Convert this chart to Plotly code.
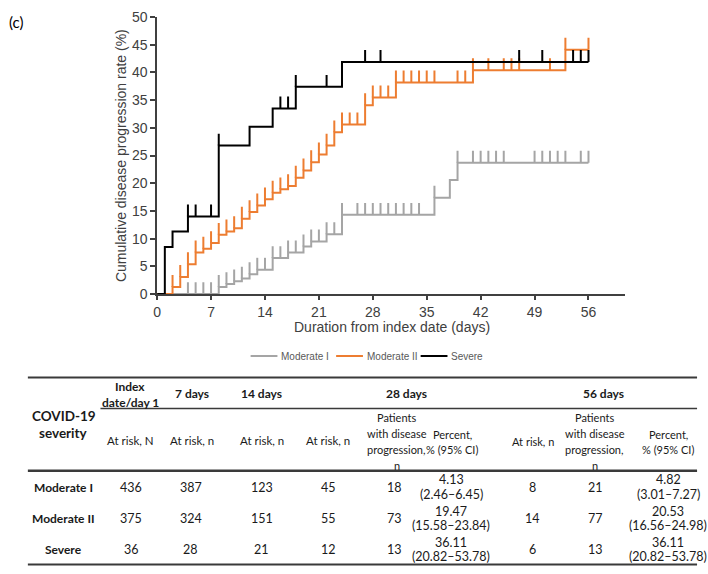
import plotly.graph_objects as go

W, H = 708, 574

# ---------------- data ----------------
x_ticks = [0, 7, 14, 21, 28, 35, 42, 49, 56]
y_ticks = [0, 5, 10, 15, 20, 25, 30, 35, 40, 45, 50]
follow_up_end = 56

series_names = ["Moderate I", "Moderate II", "Severe"]
series_colors = ["#A5A5A5", "#ED7D31", "#000000"]

# Moderate I (grey)
mod1_step_days = [8, 9, 10, 11, 12, 13, 15, 17, 19, 20, 22, 24, 36, 38, 39]
mod1_step_vals = [1.3, 1.8, 2.3, 2.8, 3.6, 4.4, 6.5, 7.5, 8.6, 9.5, 10.8, 14.3, 17.4, 20.6, 23.7]
mod1_censor = [4, 5, 6, 7, 8, 9, 10, 11, 12, 13, 14, 15, 16, 17, 18, 19, 20, 21, 22, 23, 24,
               26, 27, 28, 29, 30, 31, 32, 33, 34, 36, 39, 41, 42, 43, 44, 45,
               49, 50, 51, 52, 53, 55, 56]

# Moderate II (orange)
mod2_step_days = [2, 3, 4, 5, 6, 7, 8, 9, 10, 11, 12, 13, 14, 15, 16, 17, 18, 19, 20, 21,
                  22, 23, 24, 27, 28, 31, 41, 53]
mod2_step_vals = [1.3, 3.1, 5.4, 7.5, 8.2, 9.2, 10.7, 11.3, 11.9, 13.6, 14.8, 16.0, 17.1, 18.3,
                  18.9, 19.5, 21.0, 22.3, 23.8, 25.2, 26.8, 29.2, 30.6, 34.1, 35.5, 38.2, 40.4, 44.1]
mod2_censor = [2, 3, 4, 5, 6, 7, 8, 9, 10, 11, 12, 13, 14, 15, 16, 17, 18, 19, 20, 21, 22,
               23, 24, 25, 26, 27, 28, 29, 30, 31, 32, 33, 34, 35, 36, 39, 40, 41,
               43, 45, 46, 47, 51, 53, 56]

# Severe (black)
sev_step_days = [1, 2, 4, 8, 12, 15, 18, 24]
sev_step_vals = [8.5, 11.3, 14.0, 26.8, 30.2, 33.5, 37.4, 41.9]
sev_censor = [4, 5, 7, 8, 16, 17, 18, 22, 27, 29, 47, 50, 54, 55, 56]

# table
table_groups = ["Moderate I", "Moderate II", "Severe"]
at_risk_day1 = [436, 375, 36]
at_risk_d7 = [387, 324, 28]
at_risk_d14 = [123, 151, 21]
at_risk_d28 = [45, 55, 12]
prog_d28 = [18, 73, 13]
pct_d28 = ["4.13", "19.47", "36.11"]
ci_d28 = ["(2.46–6.45)", "(15.58–23.84)", "(20.82–53.78)"]
at_risk_d56 = [8, 14, 6]
prog_d56 = [21, 77, 13]
pct_d56 = ["4.82", "20.53", "36.11"]
ci_d56 = ["(3.01–7.27)", "(16.56–24.98)", "(20.82–53.78)"]

# ---------------- helpers ----------------
def px(x):
    return x / W

def py(y):
    return 1 - y / H

X0, X1 = 154, 625       # pixel extent of x axis
Y0, Y1 = 294.3, 9.3     # pixel of y=0, y=50
X_RANGE = [0, 60.8]
CENSOR_H = 2.15

def value_at(days, vals, t):
    v = 0.0
    for d, val in zip(days, vals):
        if d <= t:
            v = val
    return v

def step_path(days, vals, end):
    xs, ys = [0], [0]
    for d, v in zip(days, vals):
        xs.append(d)
        ys.append(v)
    xs.append(end)
    ys.append(vals[-1])
    return xs, ys

def censor_path(days, vals, cens):
    xs, ys = [], []
    for t in cens:
        v = value_at(days, vals, t)
        xs += [t, t, None]
        ys += [v, v + CENSOR_H, None]
    return xs, ys

fig = go.Figure()
all_series = [
    (mod1_step_days, mod1_step_vals, mod1_censor),
    (mod2_step_days, mod2_step_vals, mod2_censor),
    (sev_step_days, sev_step_vals, sev_censor),
]
for (days, vals, cens), name, col in zip(all_series, series_names, series_colors):
    sx, sy = step_path(days, vals, follow_up_end)
    fig.add_trace(go.Scatter(x=sx, y=sy, mode="lines", line=dict(color=col, width=2, shape="hv"),
                             name=name, showlegend=False))
    cx, cy = censor_path(days, vals, cens)
    fig.add_trace(go.Scatter(x=cx, y=cy, mode="lines", line=dict(color=col, width=2),
                             showlegend=False, hoverinfo="skip"))

axis_col = "#404040"
tick_font = dict(family="Liberation Sans, Arial", size=14, color="#404040")

fig.update_layout(
    width=W, height=H,
    margin=dict(l=0, r=0, t=0, b=0),
    paper_bgcolor="white", plot_bgcolor="white",
    showlegend=False,
    xaxis=dict(domain=[px(X0), px(X1)], range=X_RANGE, tickvals=x_ticks, ticks="outside",
               ticklen=4, tickwidth=1.5, tickcolor=axis_col, showline=True, linecolor=axis_col,
               linewidth=1.5, showgrid=False, zeroline=False, tickfont=tick_font),
    yaxis=dict(domain=[py(Y0), py(Y1)], range=[0, 50], tickvals=y_ticks, ticks="outside",
               ticklen=5, tickwidth=1.5, tickcolor=axis_col, showline=True, linecolor=axis_col,
               linewidth=1.5, showgrid=False, zeroline=False, tickfont=tick_font),
)

annotations = []
shapes = []

TEXT_SIZE = 11.5
SUB_SIZE = 11
NUM_SIZE = 12.5

def txt(x, y, text, size=TEXT_SIZE, bold=False, family="Lato", color="#1a1a1a", anchor="center", **kw):
    if bold:
        text = "<b>" + text + "</b>"
    annotations.append(dict(x=px(x), y=py(y), xref="paper", yref="paper", text=text,
                            showarrow=False, xanchor=anchor, yanchor="middle",
                            font=dict(family=family, size=size, color=color), **kw))

def lines(x, y_first, parts, spacing=16.4, **kw):
    for k, p in enumerate(parts):
        txt(x, y_first + k * spacing, p, **kw)

# panel label & axis titles
txt(3, 14, "(c)", size=15, family="Lato", anchor="left", color="#000")
txt(117, 152, "Cumulative disease progression rate (%)", size=14,
    family="Liberation Sans, Arial", color="#404040", textangle=-90)
txt(390, 328, "Duration from index date (days)", size=14,
    family="Liberation Sans, Arial", color="#404040")

# legend (drawn manually)
leg_items = [(248, 277), (334, 363), (419, 448)]
for (lx, tx), name, col in zip(leg_items, series_names, series_colors):
    shapes.append(dict(type="line", xref="paper", yref="paper", x0=px(lx), x1=px(lx + 27),
                       y0=py(358), y1=py(358), line=dict(color=col, width=2)))
    txt(tx, 358, name, size=10, family="Liberation Sans, Arial", color="#595959", anchor="left")

# table rules
def hline(x0, x1, y, w):
    shapes.append(dict(type="line", xref="paper", yref="paper", x0=px(x0), x1=px(x1),
                       y0=py(y), y1=py(y), line=dict(color="#3a3a3a", width=w)))

hline(24, 697, 380, 2)
hline(97, 697, 412, 1.5)
hline(24, 697, 476, 2.5)
hline(24, 697, 572.5, 2)

# header row
lines(127, 389, ["Index", "date/day 1"], bold=True, size=12)
txt(189, 397, "7 days", bold=True, size=12)
txt(259, 397, "14 days", bold=True, size=12)
txt(405, 397, "28 days", bold=True, size=12)
txt(603, 397, "56 days", bold=True, size=12)
lines(60, 420, ["COVID-19", "severity"], spacing=17, bold=True, size=13.5)

# sub header
txt(127, 445, "At risk, N")
txt(189, 445, "At risk, n")
txt(259, 445, "At risk, n")
txt(326, 445, "At risk, n")
lines(395, 421.7, ["Patients", "with disease", "progression,", "n"], size=SUB_SIZE)
lines(451, 438.3, ["Percent,", "% (95% CI)"], spacing=16, size=SUB_SIZE)
txt(532, 446, "At risk, n", size=SUB_SIZE)
lines(594, 421.7, ["Patients", "with disease", "progression,", "n"], size=SUB_SIZE)
lines(668, 438.3, ["Percent,", "% (95% CI)"], spacing=16, size=SUB_SIZE)

row_y = [493, 525, 557]
for i, g in enumerate(table_groups):
    y = row_y[i]
    txt(60, y, g, bold=True, size=12)
    txt(128, y, str(at_risk_day1[i]), size=NUM_SIZE)
    txt(188, y, str(at_risk_d7[i]), size=NUM_SIZE)
    txt(259, y, str(at_risk_d14[i]), size=NUM_SIZE)
    txt(326, y, str(at_risk_d28[i]), size=NUM_SIZE)
    txt(393, y, str(prog_d28[i]), size=NUM_SIZE)
    lines(450, y - 7.5, [pct_d28[i], ci_d28[i]], spacing=15, size=NUM_SIZE)
    txt(532, y, str(at_risk_d56[i]), size=NUM_SIZE)
    txt(595, y, str(prog_d56[i]), size=NUM_SIZE)
    lines(668, y - 7.5, [pct_d56[i], ci_d56[i]], spacing=15, size=NUM_SIZE)

fig.update_layout(annotations=annotations, shapes=shapes)
fig.write_html("out.html")
